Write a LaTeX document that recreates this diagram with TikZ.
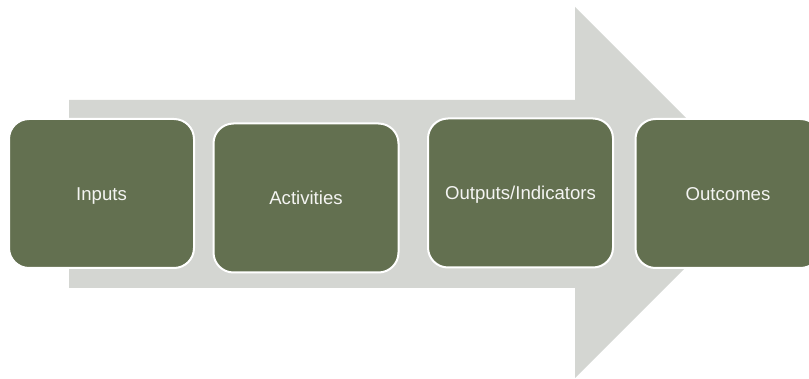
\documentclass[tikz,border=0pt]{standalone}
\usepackage{fontspec}
\setmainfont{Liberation Sans}
\definecolor{stagegreen}{HTML}{637050}
\definecolor{flowgray}{HTML}{D4D6D2}
\definecolor{labelwhite}{HTML}{F4F4F2}
\begin{document}
\begin{tikzpicture}[x=1pt,y=-1pt,
  stagebox/.style={rectangle, rounded corners=20pt, fill=stagegreen, draw=white,
    line width=2pt, minimum width=185pt, minimum height=149pt, inner sep=0pt,
    text height=13.3pt, text depth=0pt,
    text=labelwhite, font=\fontsize{18.6pt}{22pt}\selectfont}]
  \clip (0,0) rectangle (809,379);
  \useasboundingbox (0,0) rectangle (809,379);
  % big background arrow
  \fill[flowgray] (69,100) -- (575,100) -- (575,7) -- (760.5,192.5)
    -- (575,378) -- (575,288) -- (69,288) -- cycle;
  % stages
  \node[stagebox] (inputs) at (101.5,193.5) {Inputs};
  \node[stagebox] (activities) at (306,198) {Activities};
  \node[stagebox] (outputs) at (520.5,193) {Outputs/Indicators};
  \node[stagebox] (outcomes) at (728,193.5) {Outcomes};
\end{tikzpicture}
\end{document}
